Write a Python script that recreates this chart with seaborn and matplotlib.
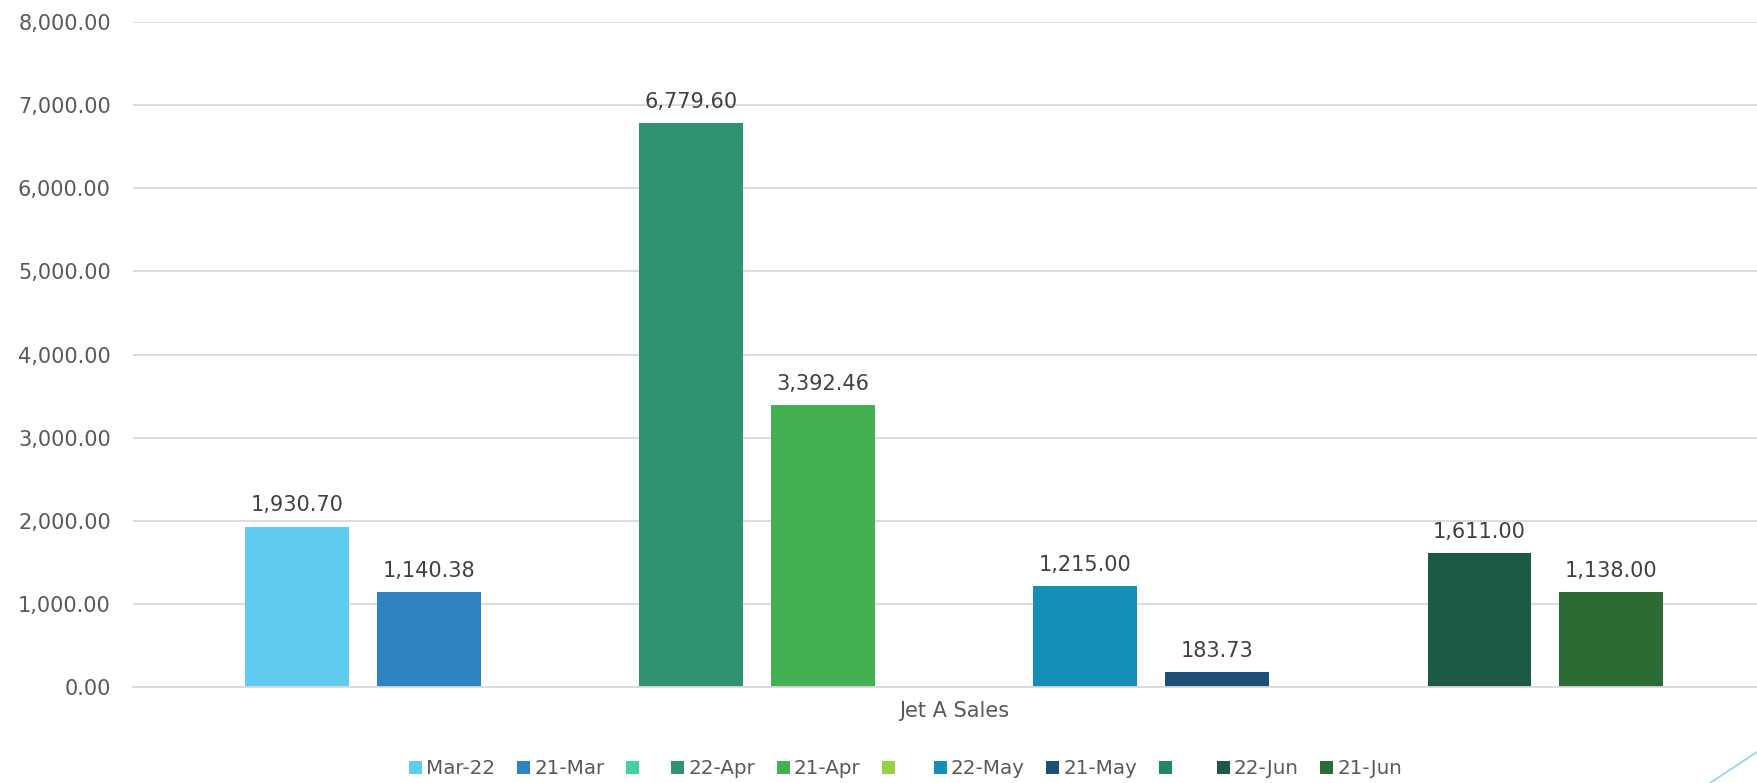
import numpy as np
import pandas as pd
import seaborn as sns
import matplotlib.pyplot as plt
from matplotlib import ticker
from matplotlib.patches import Patch
from matplotlib.lines import Line2D

# data
metric = "Jet A Sales"
series = ["Mar-22", "21-Mar", " ", "22-Apr", "21-Apr", "  ",
          "22-May", "21-May", "   ", "22-Jun", "21-Jun"]
values = [1930.70, 1140.38, np.nan, 6779.60, 3392.46, np.nan,
          1215.00, 183.73, np.nan, 1611.00, 1138.00]
colors = ["#5FCBEF", "#2E83C3", "#44D1A2", "#2E936E", "#43B052", "#98D244",
          "#138FB8", "#1C4F76", "#1F8866", "#1D5A43", "#2C6B34"]
yticks = [0, 1000, 2000, 3000, 4000, 5000, 6000, 7000, 8000]

df = pd.DataFrame({"metric": metric, "series": series, "value": values})
df = df.dropna()
palette = dict(zip(series, colors))

sns.set_style("white")
plt.rcParams['font.family'] = ['DejaVu Sans']

fig = plt.figure(figsize=(17.57, 7.83), dpi=100)
ax = fig.add_axes([0.0757, 0.1226, 0.9243, 0.8493])

sns.barplot(data=df, x="metric", y="value", hue="series", hue_order=series,
            palette=palette, width=0.8, gap=0.21, saturation=1,
            linewidth=0, legend=False, ax=ax)

for c in ax.containers:
    ax.bar_label(c, labels=['{:,.2f}'.format(b.get_height()) for b in c],
                 padding=8, fontsize=15, color='#404040')

ax.set_ylim(0, 8000)
ax.set_yticks(yticks)
ax.yaxis.set_major_formatter(ticker.StrMethodFormatter('{x:,.2f}'))
xl, xr = -0.4546, 0.4446
ax.set_xlim(xl, xr)
ax.set_xticks([xl, xr], minor=True)
ax.tick_params(axis='x', which='minor', length=6, width=1.2, color='#D9D9D9')
ax.tick_params(axis='x', which='major', length=0, pad=10, labelsize=15, labelcolor='#595959')
ax.tick_params(axis='y', length=0, pad=16, labelsize=15, labelcolor='#595959')
ax.set_xlabel('')
ax.set_ylabel('')

ax.grid(axis='y', color='#D9D9D9', linewidth=1.3)
ax.set_axisbelow(True)
for s in ['top', 'right', 'left']:
    ax.spines[s].set_visible(False)
ax.spines['bottom'].set_color('#D9D9D9')
ax.spines['bottom'].set_linewidth(1.3)

handles = [Patch(facecolor=palette[s], edgecolor='none') for s in series]
fig.legend(handles, series, loc='center', bbox_to_anchor=(0.5155, 0.018),
           ncol=len(series), frameon=False, fontsize=14.3, labelcolor='#595959',
           handlelength=0.65, handleheight=0.65, handletextpad=0.2,
           columnspacing=1.1, borderaxespad=0)

# slide decoration in the lower right corner
fig.add_artist(Line2D([1710 / 1757, 1.0], [0.0, 31 / 783],
                      transform=fig.transFigure, color='#8BD3F0', linewidth=1.2))

plt.savefig('out.png', dpi=100)
